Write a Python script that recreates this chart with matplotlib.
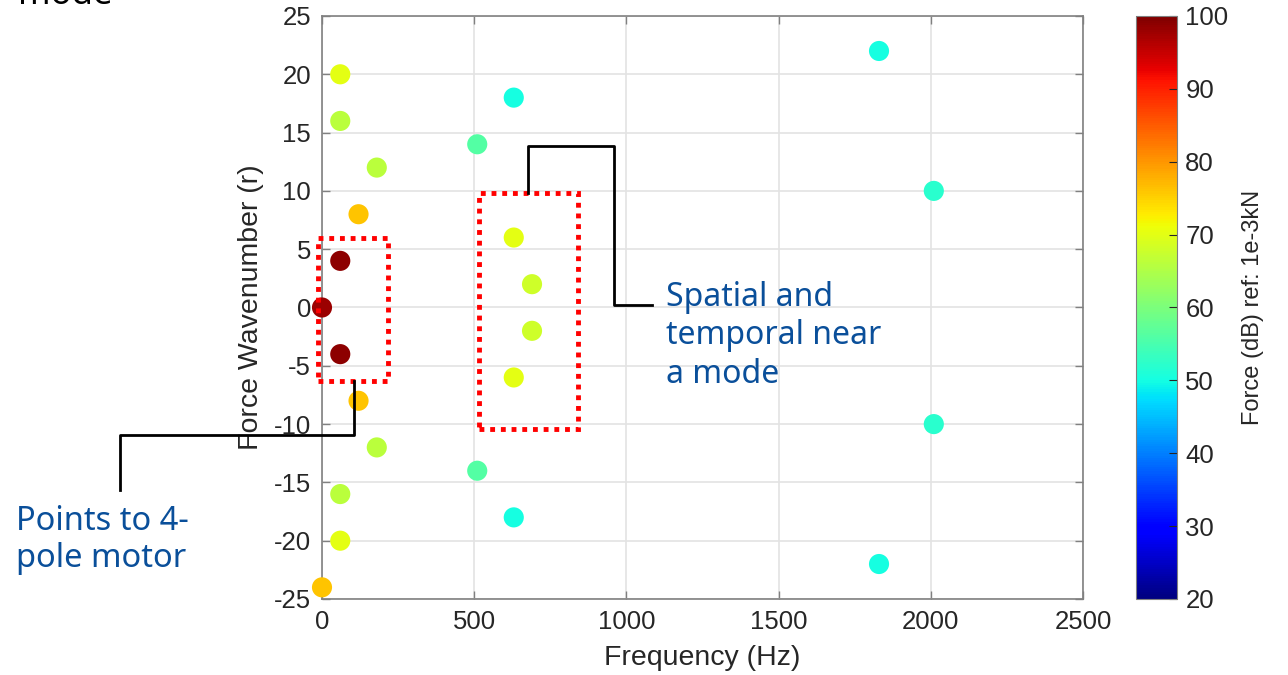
"""
Force wavenumber vs frequency scatter, coloured by force level (dB).
"""
import numpy as np
import matplotlib.pyplot as plt
from matplotlib.patches import Rectangle
from matplotlib.lines import Line2D

# Data
freq_hz = [60, 60, 180, 120, 60, 0, 60, 120, 180, 60, 60, 0,
           510, 630, 630, 690, 690, 630, 510, 630,
           1830, 2010, 2010, 1830]
wavenumber = [20, 16, 12, 8, 4, 0, -4, -8, -12, -16, -20, -24,
              14, 18, 6, 2, -2, -6, -14, -18,
              22, 10, -10, -22]
force_db = [70, 66, 66, 76, 99, 98, 99, 76, 66, 66, 70, 76,
            56, 50, 70, 68, 68, 70, 56, 50,
            50, 52, 52, 50]

x_ticks = [0, 500, 1000, 1500, 2000, 2500]
y_ticks = [-25, -20, -15, -10, -5, 0, 5, 10, 15, 20, 25]
cbar_ticks = [20, 30, 40, 50, 60, 70, 80, 90, 100]

# boxes around the highlighted groups: (x0, y0, width, height) in data units
box_motor = (-13, -6.3, 230, 12.3)
box_mode = (516, -10.4, 325, 20.2)

note_blue = '#0a4f9a'
axis_grey = '#808080'
text_grey = '#262626'

plt.rcParams['font.family'] = ['Liberation Sans', 'DejaVu Sans']
plt.rcParams['axes.unicode_minus'] = False

fig = plt.figure(figsize=(12.88, 6.75), dpi=100)
ax = fig.add_axes([0.25, 0.1126, 0.5908, 0.8637])
cax = fig.add_axes([0.882, 0.1126, 0.0318, 0.8637])

sc = ax.scatter(freq_hz, wavenumber, c=force_db, cmap='jet', vmin=20, vmax=100,
                s=210, edgecolors='none', zorder=3, clip_on=False)

ax.set_xlim(0, 2500)
ax.set_ylim(-25, 25)
ax.set_xticks(x_ticks)
ax.set_yticks(y_ticks)
ax.grid(True, color='#e3e3e3', linewidth=1.2)
ax.set_axisbelow(True)
ax.tick_params(direction='in', length=6, width=1, colors=axis_grey,
               labelcolor=text_grey, labelsize=18.5, top=True, right=True, pad=8)
for sp in ax.spines.values():
    sp.set_color(axis_grey)
    sp.set_linewidth(1.2)
ax.set_xlabel('Frequency (Hz)', fontsize=20.5, color=text_grey, labelpad=8)
ax.set_ylabel('Force Wavenumber (r)', fontsize=20.5, color=text_grey, labelpad=7)

cb = fig.colorbar(sc, cax=cax, ticks=cbar_ticks)
cb.outline.set_edgecolor(axis_grey)
cb.ax.tick_params(direction='in', length=6, colors=text_grey, labelsize=18.5,
                  labelcolor=text_grey, pad=6)
cb.set_label('Force (dB) ref: 1e-3kN', fontsize=17, color=text_grey, labelpad=10)

# red dotted highlight boxes
for bx in (box_motor, box_mode):
    ax.add_patch(Rectangle(bx[:2], bx[2], bx[3], fill=False, edgecolor='#ff0000',
                           linestyle=(0, (1, 1.2)), linewidth=3.5, zorder=5,
                           clip_on=False))

# connector lines (figure pixels from the top-left corner)
def px(xs, ys):
    return [x / 1288 for x in xs], [1 - y / 675 for y in ys]

for xs, ys in [([354, 354, 120, 120], [381, 435, 435, 490]),
               ([528, 528, 614, 614, 652], [193, 146, 146, 305, 305])]:
    fx, fy = px(xs, ys)
    fig.add_artist(Line2D(fx, fy, color='black', linewidth=2))

fig.text(666 / 1288, 1 - 281 / 675, 'Spatial and\ntemporal near\na mode',
         fontsize=23, color=note_blue, family=['Noto Sans', 'DejaVu Sans'],
         va='top', ha='left', linespacing=1.22)
fig.text(16 / 1288, 1 - 505 / 675, 'Points to 4-\npole motor',
         fontsize=23.5, color=note_blue, family=['Noto Sans', 'DejaVu Sans'],
         va='top', ha='left', linespacing=1.15)
# clipped caption from the slide above
fig.text(18 / 1288, 1 - 4 / 675, 'mode', fontsize=25, color='black',
         family=['Noto Sans', 'DejaVu Sans'], va='baseline', ha='left')

fig.savefig('out.png', dpi=100)
